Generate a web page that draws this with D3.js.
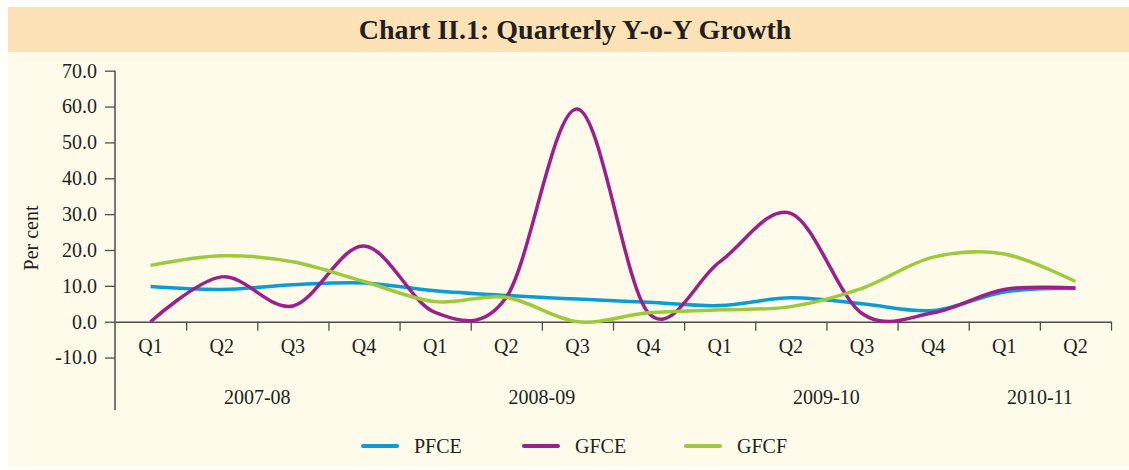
<!DOCTYPE html>
<html>
<head>
<meta charset="utf-8">
<script src="https://cdn.jsdelivr.net/npm/d3@7"></script>
<style>
    body { margin: 0; background: #ffffff; }
    text { font-family: "Liberation Serif", "DejaVu Serif", serif; fill: #231f20; }
</style>
</head>
<body>
<div id="container-svg"></div>
<script>

// ****************************** DATA ******************************
var quarters = ["Q1", "Q2", "Q3", "Q4", "Q1", "Q2", "Q3", "Q4",
                "Q1", "Q2", "Q3", "Q4", "Q1", "Q2"];

var year_labels = ["2007-08", "2008-09", "2009-10", "2010-11"];
var year_quarter_counts = [4, 4, 4, 2];

var pfce = [9.8, 9.0, 10.3, 10.8, 8.6, 7.3, 6.3, 5.4, 4.5, 6.7, 5.0, 3.1, 8.3, 9.3];
var gfce = [0.0, 12.5, 4.4, 21.1, 2.6, 6.8, 59.3, 2.4, 16.7, 30.2, 2.3, 2.5, 9.0, 9.4];
var gfcf = [15.7, 18.4, 16.7, 11.2, 5.6, 6.8, 0.0, 2.5, 3.3, 4.2, 9.3, 18.0, 18.9, 11.2];

var y_ticks = [-10, 0, 10, 20, 30, 40, 50, 60, 70];

var series_names = ["PFCE", "GFCE", "GFCF"];
var series_values = [pfce, gfce, gfcf];
var series_colors = ["#0b9bd7", "#9c1f8c", "#9ec93a"];

var chart_title = "Chart II.1: Quarterly Y-o-Y Growth";

// *********************** GLOBAL DISPLAY VARS ***********************
var svg_width = 1129,
    svg_height = 470,
    X_LEFT = 115,
    X_RIGHT = 1111,
    Y_TOP = 70.7,
    Y_ZERO = 321.7,
    Y_AXIS_BOTTOM = 410;

var color_banner = "#fde2b8",
    color_panel = "#fefbea",
    color_axis = "#4d4d4d";

var body = d3.select("#container-svg");

// ******************************* SVG *******************************
var svg = body.append("svg")
    .attr("width", svg_width)
    .attr("height", svg_height);

svg.append("rect")
    .attr("x", 8).attr("y", 52)
    .attr("width", svg_width - 8).attr("height", 414)
    .attr("fill", color_panel);

svg.append("rect")
    .attr("x", 8).attr("y", 7)
    .attr("width", svg_width - 8).attr("height", 45)
    .attr("fill", color_banner);

svg.append("text")
    .attr("x", 575)
    .attr("y", 39)
    .attr("text-anchor", "middle")
    .style("font-size", "28px")
    .style("font-weight", "bold")
    .text(chart_title);

// ***************************** SCALES ******************************
var scale_x = d3.scaleBand()
    .domain(d3.range(quarters.length))
    .range([X_LEFT, X_RIGHT]);

var scale_edges = d3.scaleLinear()
    .domain([0, quarters.length])
    .range([X_LEFT, X_RIGHT]);

var scale_y = d3.scaleLinear()
    .domain([0, 70])
    .range([Y_ZERO, Y_TOP]);

var bw = scale_x.bandwidth();

// ****************************** AXES *******************************
var fmt = d3.format(".1f");

var y_axis = svg.append("g")
    .attr("transform", "translate(" + X_LEFT + ",0)")
    .call(d3.axisLeft(scale_y)
        .tickValues(y_ticks)
        .tickFormat(function(d) { return fmt(d).replace("\u2212", "-"); })
        .tickSize(10)
        .tickPadding(8));

y_axis.select(".domain").remove();
y_axis.selectAll("line").attr("stroke", color_axis).attr("stroke-width", 1.3);
y_axis.selectAll("text")
    .attr("fill", "#231f20")
    .style("font-size", "20px")
    .style("font-family", "Liberation Serif, serif");

svg.append("line")
    .attr("x1", X_LEFT).attr("x2", X_LEFT)
    .attr("y1", scale_y(70)).attr("y2", Y_AXIS_BOTTOM)
    .attr("stroke", color_axis)
    .attr("stroke-width", 1.5);

var x_axis = svg.append("g")
    .attr("transform", "translate(0," + scale_y(0) + ")")
    .call(d3.axisBottom(scale_edges)
        .tickValues(d3.range(1, quarters.length + 1))
        .tickFormat("")
        .tickSize(9)
        .tickSizeOuter(0));

x_axis.select(".domain").attr("stroke", color_axis).attr("stroke-width", 1.5);
x_axis.selectAll("line").attr("stroke", color_axis).attr("stroke-width", 1.3);

svg.selectAll("text.qlabel")
    .data(quarters)
    .enter()
    .append("text")
    .attr("class", "qlabel")
    .attr("x", function(d, i) { return scale_x(i) + bw / 2; })
    .attr("y", scale_y(0) + 31)
    .attr("text-anchor", "middle")
    .style("font-size", "20px")
    .text(function(d) { return d; });

var start = 0;
for (var k = 0; k < year_labels.length; k++) {
    var mid = start + year_quarter_counts[k] / 2;
    svg.append("text")
        .attr("class", "ylabel")
        .attr("x", scale_edges(mid))
        .attr("y", 404)
        .attr("text-anchor", "middle")
        .style("font-size", "20px")
        .text(year_labels[k]);
    start += year_quarter_counts[k];
}

svg.append("text")
    .attr("transform", "translate(38," + 238 + ") rotate(-90)")
    .attr("text-anchor", "middle")
    .style("font-size", "20px")
    .text("Per cent");

// ****************************** LINES ******************************
var line = d3.line()
    .x(function(d, i) { return scale_x(i) + bw / 2; })
    .y(function(d) { return scale_y(d); })
    .curve(d3.curveCardinal.tension(0));

for (var s = 0; s < series_values.length; s++) {
    svg.append("path")
        .attr("d", line(series_values[s]))
        .attr("fill", "none")
        .attr("stroke", series_colors[s])
        .attr("stroke-width", 3.5)
        .attr("stroke-linejoin", "round");
}

// ***************************** LEGEND ******************************
var legend_x = [363, 524, 686];

var legend = svg.selectAll("g.legend")
    .data(series_names)
    .enter()
    .append("g")
    .attr("class", "legend")
    .attr("transform", function(d, i) { return "translate(" + legend_x[i] + ",446)"; });

legend.append("line")
    .attr("x1", 0).attr("x2", 34)
    .attr("y1", 0).attr("y2", 0)
    .attr("stroke", function(d, i) { return series_colors[i]; })
    .attr("stroke-width", 4)
    .attr("stroke-linecap", "round");

legend.append("text")
    .attr("x", 51)
    .attr("y", 7)
    .style("font-size", "20px")
    .text(function(d) { return d; });

</script>
</body>
</html>
